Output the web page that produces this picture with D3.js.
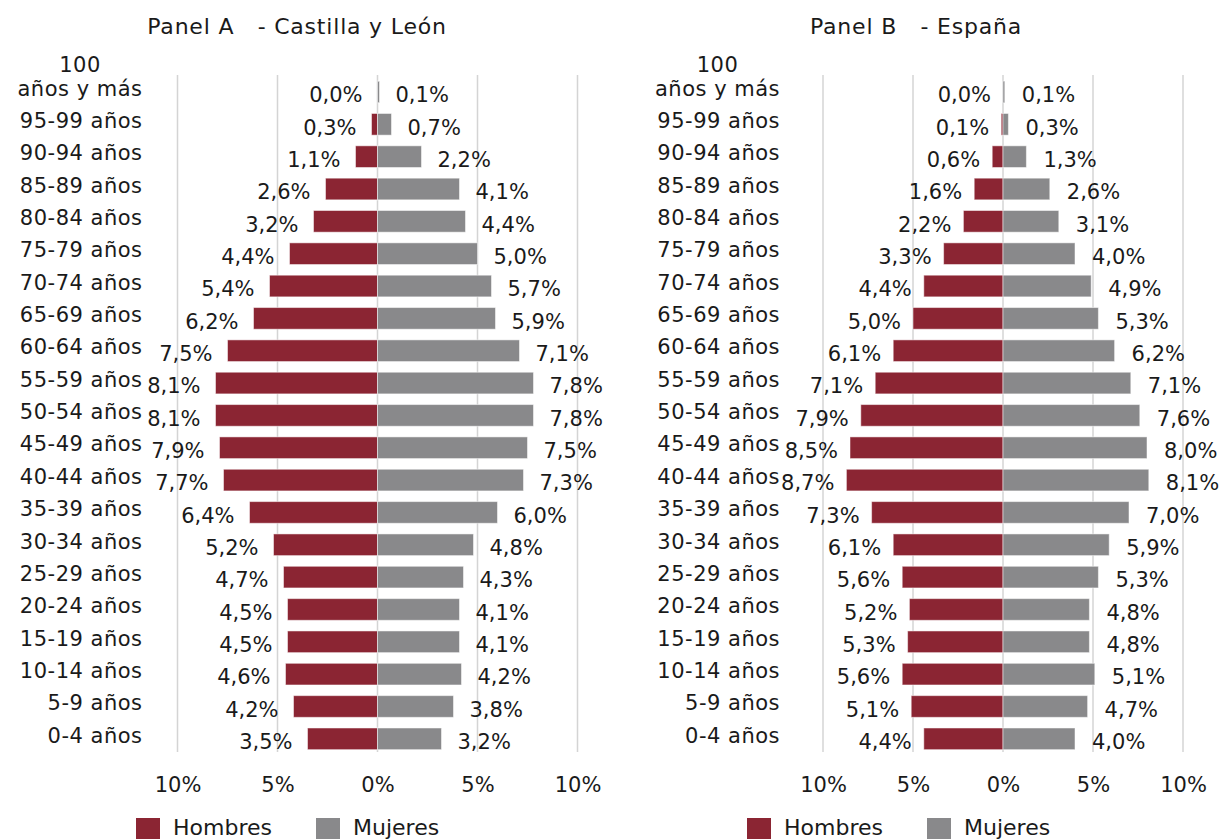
<!DOCTYPE html>
<html>
<head>
<meta charset="utf-8">
<script src="https://cdn.jsdelivr.net/npm/d3@7"></script>
<style>
  body { margin: 0; background: #fff; }
  svg { font-family: "DejaVu Sans", sans-serif; }
</style>
</head>
<body>
<svg id="chart" width="1220" height="839"></svg>
<script>
// data, top row first
const ageGroups = [
    "100 años y más", "95-99 años", "90-94 años", "85-89 años", "80-84 años",
    "75-79 años", "70-74 años", "65-69 años", "60-64 años", "55-59 años",
    "50-54 años", "45-49 años", "40-44 años", "35-39 años", "30-34 años",
    "25-29 años", "20-24 años", "15-19 años", "10-14 años", "5-9 años", "0-4 años"
]

const clMen = [0.0, 0.3, 1.1, 2.6, 3.2, 4.4, 5.4, 6.2, 7.5, 8.1, 8.1, 7.9, 7.7, 6.4, 5.2, 4.7, 4.5, 4.5, 4.6, 4.2, 3.5]
const clWomen = [0.1, 0.7, 2.2, 4.1, 4.4, 5.0, 5.7, 5.9, 7.1, 7.8, 7.8, 7.5, 7.3, 6.0, 4.8, 4.3, 4.1, 4.1, 4.2, 3.8, 3.2]
const esMen = [0.0, 0.1, 0.6, 1.6, 2.2, 3.3, 4.4, 5.0, 6.1, 7.1, 7.9, 8.5, 8.7, 7.3, 6.1, 5.6, 5.2, 5.3, 5.6, 5.1, 4.4]
const esWomen = [0.1, 0.3, 1.3, 2.6, 3.1, 4.0, 4.9, 5.3, 6.2, 7.1, 7.6, 8.0, 8.1, 7.0, 5.9, 5.3, 4.8, 4.8, 5.1, 4.7, 4.0]

const axisTicks = [-10, -5, 0, 5, 10]
const seriesNames = ["Hombres", "Mujeres"]

const red = "#8b2533"
const grey = "#89898b"
const fontSize = 21

const locale = d3.formatLocale({ decimal: ",", thousands: ".", grouping: [3], currency: ["", "€"] })
const fmt = locale.format(".1f")

const svg = d3.select("#chart")

const yScale = d3.scaleBand()
    .domain(ageGroups)
    .range([75.8, 755])
    .paddingInner(0.33)
    .paddingOuter(0.165)

function drawPanel(opts) {
    const g = svg.append("g")
    const xScale = d3.scaleLinear().domain([-10, 10]).range([opts.left, opts.right])

    // title
    g.append("text")
        .attr("x", opts.titleX)
        .attr("y", 34)
        .attr("text-anchor", "middle")
        .attr("font-size", 22)
        .attr("letter-spacing", 0.8)
        .attr("fill", "#1a1a1a")
        .style("white-space", "pre")
        .text(opts.title)

    // grid
    g.append("g")
        .selectAll("line")
        .data(axisTicks)
        .enter()
        .append("line")
        .attr("x1", d => xScale(d))
        .attr("x2", d => xScale(d))
        .attr("y1", 75)
        .attr("y2", 752)
        .attr("stroke", "#d4d4d4")
        .attr("stroke-width", 1.5)

    const rows = ageGroups.map((a, i) => ({ age: a, men: opts.men[i], women: opts.women[i] }))
    const bh = yScale.bandwidth()

    // bars
    g.append("g")
        .selectAll("rect")
        .data(rows)
        .enter()
        .append("rect")
        .attr("x", d => xScale(-d.men))
        .attr("y", d => yScale(d.age))
        .attr("width", d => xScale(0) - xScale(-d.men))
        .attr("height", bh)
        .attr("fill", red)
        .attr("stroke", "#ffffff")
        .attr("stroke-opacity", 0.5)
        .attr("stroke-width", 1)

    g.append("g")
        .selectAll("rect")
        .data(rows)
        .enter()
        .append("rect")
        .attr("x", xScale(0))
        .attr("y", d => yScale(d.age))
        .attr("width", d => Math.max(xScale(d.women) - xScale(0), 1.5))
        .attr("height", bh)
        .attr("fill", grey)
        .attr("stroke", "#ffffff")
        .attr("stroke-opacity", 0.5)
        .attr("stroke-width", 1)

    // data labels
    g.append("g")
        .selectAll("text")
        .data(rows)
        .enter()
        .append("text")
        .attr("x", d => xScale(-d.men) - opts.gapMen)
        .attr("y", d => yScale(d.age) + bh / 2 + 3)
        .attr("dy", "0.35em")
        .attr("text-anchor", "end")
        .attr("font-size", fontSize)
        .attr("fill", "#1a1a1a")
        .text(d => fmt(d.men) + "%")

    g.append("g")
        .selectAll("text")
        .data(rows)
        .enter()
        .append("text")
        .attr("x", d => xScale(d.women) + opts.gapWomen)
        .attr("y", d => yScale(d.age) + bh / 2 + 3)
        .attr("dy", "0.35em")
        .attr("text-anchor", "start")
        .attr("font-size", fontSize)
        .attr("fill", "#1a1a1a")
        .text(d => fmt(d.women) + "%")

    // category axis
    const yAxis = g.append("g")
        .attr("transform", `translate(${opts.left}, -3)`)
        .call(d3.axisLeft(yScale).tickSize(0).tickPadding(opts.labelPad))
    yAxis.select(".domain").remove()
    yAxis.selectAll("text")
        .attr("font-size", fontSize)
        .attr("font-family", "DejaVu Sans")
        .attr("letter-spacing", 0.5)
        .attr("fill", "#1a1a1a")
    // two line label on top
    yAxis.selectAll(".tick text")
        .filter(d => d === ageGroups[0])
        .each(function () {
            const t = d3.select(this)
            t.text(null).attr("dy", null)
            const line2 = t.append("tspan")
                .attr("x", -opts.labelPad)
                .attr("y", 0)
                .attr("dy", "0.32em")
                .text("años y más")
            const w = line2.node().getComputedTextLength()
            t.insert("tspan", "tspan")
                .attr("x", -opts.labelPad - w / 2)
                .attr("y", -24)
                .attr("dy", "0.32em")
                .attr("text-anchor", "middle")
                .text("100")
        })

    // value axis
    const xAxis = g.append("g")
        .attr("transform", "translate(0, 760)")
        .call(d3.axisBottom(xScale)
            .tickValues(axisTicks)
            .tickSize(0)
            .tickPadding(17)
            .tickFormat(d => Math.abs(d) + "%"))
    xAxis.select(".domain").remove()
    xAxis.selectAll("text")
        .attr("font-size", fontSize)
        .attr("font-family", "DejaVu Sans")
        .attr("fill", "#1a1a1a")

    // legend
    const leg = g.append("g")
    const legendColors = [red, grey]
    seriesNames.forEach((name, i) => {
        leg.append("rect")
            .attr("x", opts.legendX[i])
            .attr("y", 818)
            .attr("width", 24)
            .attr("height", 22)
            .attr("fill", legendColors[i])
        leg.append("text")
            .attr("x", opts.legendX[i] + 37)
            .attr("y", 835)
            .attr("font-size", 22)
            .attr("fill", "#1a1a1a")
            .text(name)
    })
}

drawPanel({
    title: "Panel A   - Castilla y León",
    titleX: 297,
    left: 177.5, right: 577.5,
    labelPad: 35,
    men: clMen, women: clWomen,
    gapMen: 15, gapWomen: 16,
    legendX: [136, 316]
})

drawPanel({
    title: "Panel B   - España",
    titleX: 916,
    left: 823, right: 1183,
    labelPad: 43,
    men: esMen, women: esWomen,
    gapMen: 12, gapWomen: 17,
    legendX: [747, 927]
})
</script>
</body>
</html>
